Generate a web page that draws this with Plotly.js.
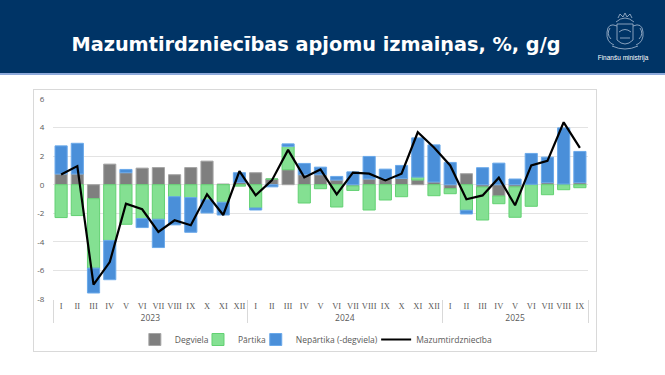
<!DOCTYPE html>
<html>
<head>
<meta charset="utf-8">
<script src="https://cdn.plot.ly/plotly-3.0.1.min.js"></script>
<style>
  html, body { margin: 0; padding: 0; background: #ffffff; width: 665px; height: 375px; overflow: hidden; }
  #header { position: absolute; left: 0; top: 0; width: 665px; height: 73px; background: #003466; border-bottom: 2px solid #8eaadb; }
  #title { position: absolute; left: 0; width: 632px; top: 33px; text-align: center; color: #ffffff;
           font-family: "DejaVu Sans", sans-serif; font-weight: bold; font-size: 19.3px; line-height: 24px; }
  #logo { position: absolute; left: 590px; top: 8px; width: 70px; height: 60px; }
  #logotext { position: absolute; left: 588px; top: 54px; width: 70px; text-align: center; color: #ffffff;
              font-family: "Liberation Sans", sans-serif; font-size: 6.5px; }
  #box { position: absolute; left: 33px; top: 89px; width: 562px; height: 261px; border: 1px solid #d9d9d9; }
  #chart { width: 562px; height: 261px; }
</style>
</head>
<body>
<div id="header">
  <div id="title">Mazumtirdzniecības apjomu izmaiņas, %, g/g</div>
  <svg id="logo" viewBox="0 0 70 60">
    <g fill="none" stroke="#c8d4e6" stroke-width="0.8" opacity="0.85">
      <path d="M26 14 Q35 6 44 14"/>
      <path d="M28 10 L30 6 L33 9 L35 5 L37 9 L40 6 L42 10"/>
      <path d="M27 16 L43 16 L43 32 Q35 40 27 32 Z"/>
      <path d="M29 24 Q35 19 41 24"/>
      <path d="M30 30 L40 30"/>
      <path d="M27 18 Q18 14 17 24 Q16 34 24 37"/>
      <path d="M43 18 Q52 14 53 24 Q54 34 46 37"/>
      <path d="M20 20 Q16 26 21 31"/>
      <path d="M50 20 Q54 26 49 31"/>
      <path d="M22 38 Q35 44 48 38"/>
    </g>
  </svg>
  <div id="logotext">Finanšu ministrija</div>
</div>
<div id="box"><div id="chart"></div></div>
<script>
// ---- Data ----
const years = [
  "2023","2023","2023","2023","2023","2023","2023","2023","2023","2023","2023","2023",
  "2024","2024","2024","2024","2024","2024","2024","2024","2024","2024","2024","2024",
  "2025","2025","2025","2025","2025","2025","2025","2025","2025"
];
const months = [
  "I","II","III","IV","V","VI","VII","VIII","IX","X","XI","XII",
  "I","II","III","IV","V","VI","VII","VIII","IX","X","XI","XII",
  "I","II","III","IV","V","VI","VII","VIII","IX"
];
const degviela = [
  0.75, 0.75, -0.98, 1.44, 0.84, 1.16, 1.20, 0.70, 1.20, 1.65, 0.05, 0.15,
  0.84, 0.40, 1.05, 0.70, 0.70, 0.33, -0.08, 0.40, 0.40, 0.44, 0.33, 0.19,
  -0.28, 0.77, -0.16, -0.79, -0.15, 0.03, 0.14, 0.05, 0.14
];
const partika = [
  -2.30, -2.16, -4.86, -3.90, -2.77, -2.37, -2.42, -0.84, -0.90, -1.05, -1.23, -0.10,
  -1.63, 0.00, 1.62, -1.28, -0.28, -1.56, -0.32, -1.77, -1.07, -0.84, 0.20, -0.77,
  -0.35, -1.79, -2.31, -0.54, -2.13, -1.51, -0.70, -0.35, -0.21
];
const nepartika = [
  1.97, 2.15, -1.74, -2.75, 0.23, -0.63, -1.98, -1.97, -2.43, -0.93, -0.89, 0.69,
  -0.14, -0.15, 0.19, 0.79, 0.53, 0.25, 0.90, 1.58, 0.69, 0.91, 2.75, 2.60,
  1.56, -0.26, 1.19, 1.51, 0.40, 2.16, 1.79, 3.93, 2.19
];
const mazumtirdznieciba = [
  0.72, 1.30, -7.00, -5.42, -1.33, -1.72, -3.30, -2.49, -2.84, -0.67, -2.12, 0.95,
  -0.74, 0.30, 2.44, 0.51, 1.07, -0.67, 0.84, 0.77, 0.30, 0.77, 3.67, 2.60,
  1.35, -1.02, -0.75, 0.49, -1.44, 1.35, 1.67, 4.37, 2.58
];
const seriesNames = ["Degviela", "Pārtika", "Nepārtika (-degviela)", "Mazumtirdzniecība"];
const yTicks = [-8, -6, -4, -2, 0, 2, 4, 6];

// ---- Chart ----
const monthLabels = months.map(m => '<span style="font-family:Liberation Serif">' + m + '</span>');
const x = [years, monthLabels];
const traces = [
  { type: "bar", name: seriesNames[0], x: x, y: degviela, legend: "legend",
    marker: { color: "#7f7f7f", line: { color: "#a5a5a5", width: 1 } } },
  { type: "bar", name: seriesNames[1], x: x, y: partika, legend: "legend2",
    marker: { color: "#84e092", line: { color: "#62d172", width: 1 } } },
  { type: "bar", name: seriesNames[2], x: x, y: nepartika, legend: "legend3",
    marker: { color: "#4a8fd9", line: { color: "#6aa9ea", width: 1 } } },
  { type: "scatter", mode: "lines", name: seriesNames[3], x: x, y: mazumtirdznieciba, legend: "legend4",
    line: { color: "#000000", width: 2.2 } }
];
function leg(xpos) {
  return { orientation: "h", x: xpos, xanchor: "left", y: -0.2025, yanchor: "middle",
           bgcolor: "rgba(0,0,0,0)", font: { size: 8.5, color: "#595959" }, itemwidth: 30 };
}
const layout = {
  width: 562, height: 261,
  margin: { l: 19, r: 8, t: 9, b: 52, autoexpand: false },
  paper_bgcolor: "#ffffff", plot_bgcolor: "#ffffff",
  barmode: "relative", bargap: 0.25,
  font: { family: "Open Sans, sans-serif", size: 8, color: "#595959" },
  showlegend: true,
  legend: leg(0.153), legend2: leg(0.271), legend3: leg(0.379), legend4: leg(0.604),
  xaxis: { type: "multicategory", showgrid: false, showline: false, zeroline: false,
           showdividers: true, dividercolor: "#d9d9d9", dividerwidth: 1, tickangle: 0,
           ticks: "outside", ticklen: 13, tickcolor: "rgba(0,0,0,0)",
           tickfont: { size: 8.5, color: "#595959" }, automargin: false },
  yaxis: { range: [-8, 6], tickvals: yTicks, ticktext: yTicks.map(String),
           showgrid: true, gridcolor: "#e3e3e3", gridwidth: 1,
           zeroline: false, showline: false,
           ticks: "outside", ticklen: 6, tickcolor: "rgba(0,0,0,0)",
           tickfont: { size: 8, color: "#595959" }, automargin: false }
};
Plotly.newPlot("chart", traces, layout, { displayModeBar: false, staticPlot: true });
</script>
</body>
</html>
